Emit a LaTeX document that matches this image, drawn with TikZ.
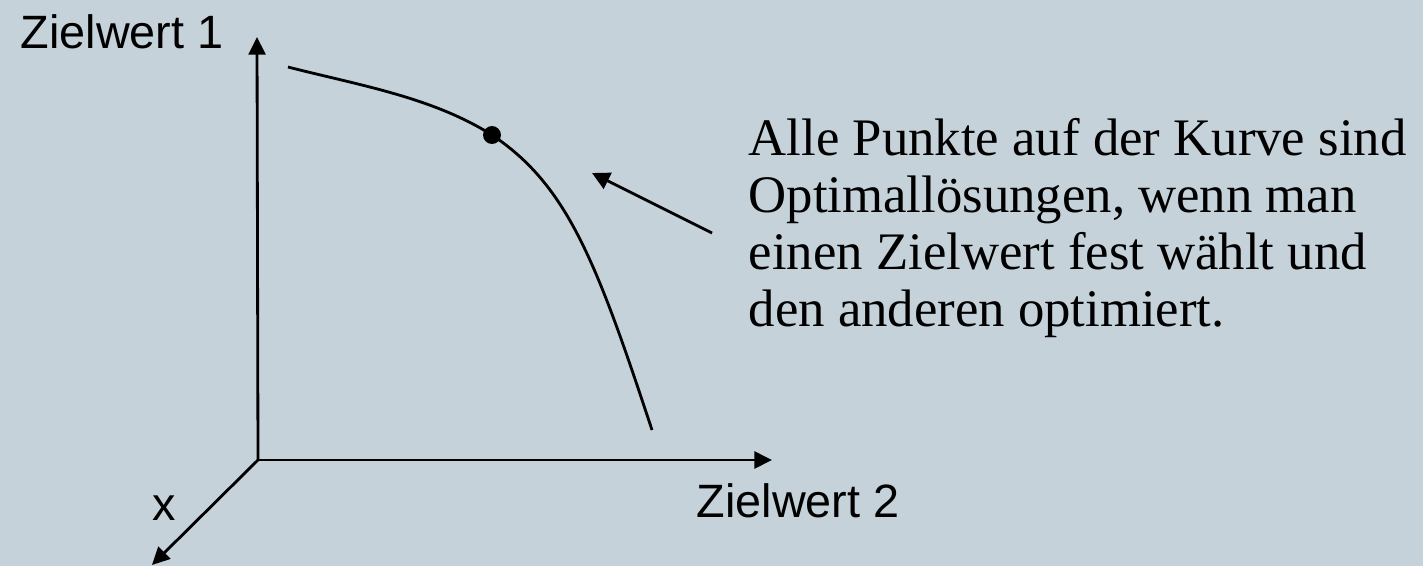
\documentclass[tikz,border=0pt]{standalone}
\usepackage{fontspec}
\setmainfont{Liberation Serif}
\newfontfamily\labelfont{Liberation Sans}
\usepackage{tikz}
\usetikzlibrary{arrows.meta}
\definecolor{slideBg}{RGB}{198,210,217}
\tikzset{
  axis/.style={draw=black, line width=0.8pt,
               -{Triangle[length=5pt, width=4.8pt]}},
  curve/.style={draw=black, line width=0.8pt},
  pointer/.style={draw=black, line width=0.8pt,
                  -{Triangle[length=5pt, width=5pt]}},
  axisLabel/.style={inner sep=0pt,
                    font=\labelfont\fontsize{13.3}{16}\selectfont},
  noteText/.style={inner sep=0pt, align=left,
                   font=\fontsize{15}{16.2}\selectfont},
  dotV/.style={circle, fill=black, inner sep=0pt, minimum size=5.1pt},
}
\begin{document}
\begin{tikzpicture}[x=0.01cm, y=-0.01cm]
    \useasboundingbox[fill=slideBg] (0,0) rectangle (1423,566);
    %% axes
    \coordinate (O)  at (258,460);
    \coordinate (z1) at (257,37);
    \coordinate (z2) at (772,460);
    \coordinate (xa) at (152,565);
    \draw[axis] (O) -- (z1);
    \draw[axis] (O) -- (z2);
    \draw[axis] (O) -- (xa);
    %% axis labels
    \node[axisLabel, anchor=base west] (lz1) at (20,48)   {Zielwert 1};
    \node[axisLabel, anchor=base west] (lz2) at (696,517) {Zielwert 2};
    \node[axisLabel, anchor=base west] (lx)  at (152,520) {x};
    %% curve of optimal solutions
    \coordinate (c0) at (288,67);
    \coordinate (c1) at (652,430);
    \node[dotV] (pt) at (492,135) {};
    \draw[curve] (c0) .. controls (358,85) and (432,97) .. (pt.center)
                      .. controls (567,185) and (596,260) .. (c1);
    %% note + pointer
    \node[noteText, anchor=north west] (note) at (748,118) {%
      Alle Punkte auf der Kurve sind\\
      Optimallösungen, wenn man\\
      einen Zielwert fest wählt und\\
      den anderen optimiert.%
    };
    \coordinate (pStart) at (712,233);
    \coordinate (pEnd)   at (592,173);
    \draw[pointer] (pStart) -- (pEnd);
\end{tikzpicture}
\end{document}
